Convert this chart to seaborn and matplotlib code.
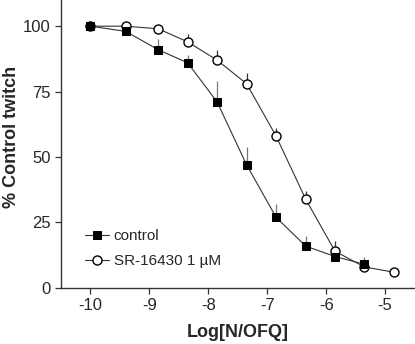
import numpy as np
import pandas as pd
import matplotlib
matplotlib.use('Agg')
import matplotlib.pyplot as plt
import seaborn as sns

# ============ Data ============
log_conc_ctrl = [-10.0, -9.4, -8.85, -8.35, -7.85, -7.35, -6.85, -6.35, -5.85, -5.35]
ctrl_mean = [100, 98, 91, 86, 71, 47, 27, 16, 12, 9]
ctrl_sem = [0, 0, 4, 3, 8, 7, 5, 4, 0, 3]

log_conc_sr = [-10.0, -9.4, -8.85, -8.35, -7.85, -7.35, -6.85, -6.35, -5.85, -5.35, -4.85]
sr_mean = [100, 100, 99, 94, 87, 78, 58, 34, 14, 8, 6]
sr_sem = [0, 0, 0, 3, 4, 4, 3, 3, 4, 0, 0]

x_ticks = [-10, -9, -8, -7, -6, -5]
y_ticks = [0, 25, 50, 75, 100]

df_ctrl = pd.DataFrame({'logc': log_conc_ctrl, 'resp': ctrl_mean, 'sem': ctrl_sem})
df_sr = pd.DataFrame({'logc': log_conc_sr, 'resp': sr_mean, 'sem': sr_sem})

# ============ Style ============
sns.set_style('ticks')
plt.rcParams['font.family'] = ['Liberation Sans', 'DejaVu Sans']
plt.rcParams['axes.unicode_minus'] = False

fig, ax = plt.subplots(figsize=(4.15, 3.44), dpi=100)
fig.subplots_adjust(left=0.147, right=0.999, bottom=0.163, top=1.0)

# upward-only error bars
ax.vlines(df_sr['logc'], df_sr['resp'], df_sr['resp'] + df_sr['sem'],
          color='#333333', linewidth=0.9, zorder=1)
ax.vlines(df_ctrl['logc'], df_ctrl['resp'], df_ctrl['resp'] + df_ctrl['sem'],
          color='#777777', linewidth=0.9, zorder=1)

sns.lineplot(data=df_sr, x='logc', y='resp', ax=ax, color='#333333', linewidth=0.8,
             marker='o', markersize=6.5, markerfacecolor='white', markeredgecolor='black',
             markeredgewidth=1.0, label='SR-16430 1 µM', zorder=2)
sns.lineplot(data=df_ctrl, x='logc', y='resp', ax=ax, color='#333333', linewidth=0.8,
             marker='s', markersize=5.5, markerfacecolor='black', markeredgecolor='black',
             label='control', zorder=3)

ax.set_xlim(-10.5, -4.5)
ax.set_ylim(0, 110)
ax.set_xticks(x_ticks)
ax.set_yticks(y_ticks)
ax.tick_params(axis='both', labelsize=12, length=4, width=0.9, direction='out', color='#333333')
for s in ['top', 'right']:
    ax.spines[s].set_visible(False)
for s in ['left', 'bottom']:
    ax.spines[s].set_linewidth(1.0)
    ax.spines[s].set_color('#333333')

ax.set_xlabel('Log[N/OFQ]', fontsize=13, fontweight='bold', labelpad=8)
ax.set_ylabel('% Control twitch', fontsize=13, fontweight='bold')
ax.yaxis.set_label_coords(-0.116, 0.525)

handles, labels = ax.get_legend_handles_labels()
ax.legend(handles[::-1], labels[::-1], loc='lower left', bbox_to_anchor=(0.028, 0.02),
          frameon=False, fontsize=11, handlelength=1.6, handletextpad=0.3, labelspacing=0.75)

fig.savefig('out.png', dpi=100)
